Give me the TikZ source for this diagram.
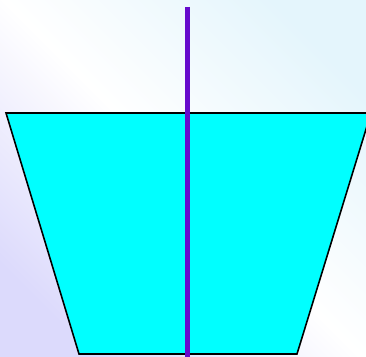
\documentclass[tikz,border=0pt]{standalone}
\definecolor{bgviolet}{RGB}{220,218,252}
\definecolor{bgcyan}{RGB}{228,245,252}
\definecolor{watercyan}{RGB}{0,255,255}
\definecolor{rodpurple}{RGB}{102,10,204}

\begin{document}
\begin{tikzpicture}[
  x=0.02cm, y=-0.02cm,
  vessel/.style={
    fill=watercyan,
    draw=black,
    line width=0.9pt,
    line join=miter
  },
  rod/.style={
    draw=rodpurple,
    line width=2.9pt
  }
]

\useasboundingbox (0,0) rectangle (366,357);
\clip (0,0) rectangle (366,357);

\shade[top color=bgcyan, bottom color=bgviolet, middle color=white,
  shading angle=-45] (-10,-10) rectangle (376,367);

\coordinate (tl) at (6,113);
\coordinate (tr) at (371,113);
\coordinate (br) at (297,354);
\coordinate (bl) at (79,354);

\draw[vessel] (tl) -- (tr) -- (br) -- (bl) -- cycle;

\coordinate (rodtop) at (187.5,7);
\coordinate (rodbot) at (187.5,360);
\draw[rod] (rodtop) -- (rodbot);

\end{tikzpicture}
\end{document}
